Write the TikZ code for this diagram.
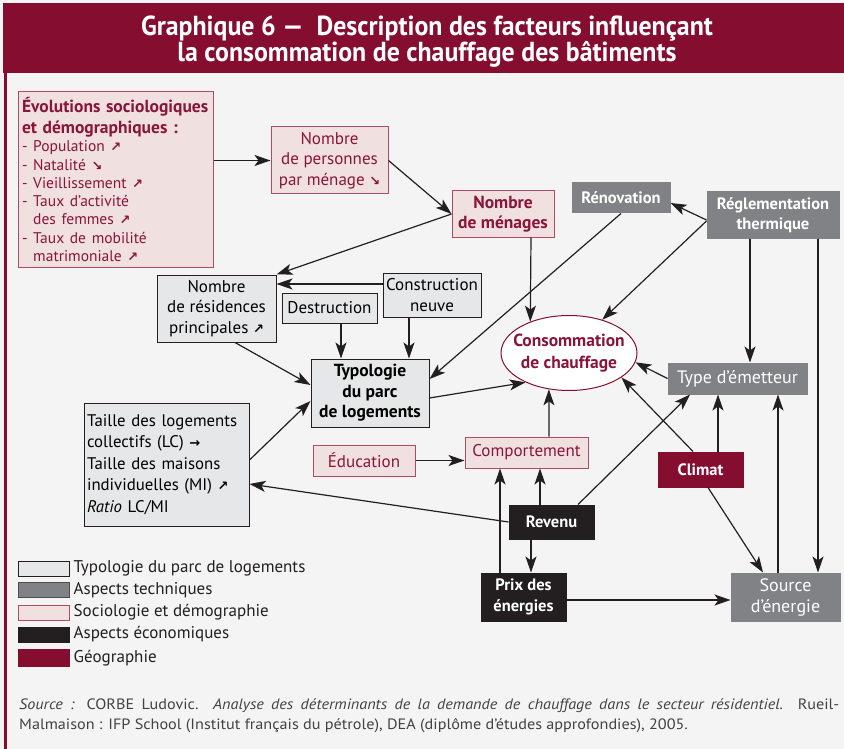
\documentclass[tikz,border=0pt]{standalone}
\usepackage{fontspec}
\setmainfont{PT Sans}
\newfontfamily\titlefont{PT Sans}[FakeStretch=0.94]
\newfontfamily\notefont{PT Sans}[FakeStretch=1.08]
\newfontfamily\symfont{DejaVu Sans}
\usetikzlibrary{arrows.meta,shapes.geometric}
\definecolor{maroon}{HTML}{850D30}
\definecolor{pinkfill}{HTML}{F0E0E0}
\definecolor{pinkline}{HTML}{B04A65}
\definecolor{maroontext}{HTML}{8A1538}
\definecolor{lgfill}{HTML}{E6E7E8}
\definecolor{ink}{HTML}{231F20}
\definecolor{midgray}{HTML}{818285}
\definecolor{bgcol}{HTML}{F4F4F4}
\newcommand\arNE{{\symfont\bfseries\fontsize{13}{13}\selectfont ↗}}
\newcommand\arSE{{\symfont\bfseries\fontsize{13}{13}\selectfont ↘}}
\newcommand\arE{{\symfont\bfseries\fontsize{13}{13}\selectfont →}}
\tikzset{
  nbox/.style={draw, rectangle, align=center, inner sep=2pt, line width=1pt,
    font=\fontsize{17}{20.5}\selectfont},
  socio/.style={nbox, fill=pinkfill, draw=pinkline, text=maroontext},
  typbox/.style={nbox, fill=lgfill, draw=ink},
  tech/.style={nbox, fill=midgray, draw=midgray, text=white, font=\fontsize{16.5}{20.5}\selectfont\bfseries},
  techreg/.style={tech, font=\fontsize{18}{21}\selectfont},
  eco/.style={nbox, fill=ink, draw=ink, text=white, font=\fontsize{16.5}{20.5}\selectfont\bfseries},
  geo/.style={nbox, fill=maroon, draw=maroon, text=white, font=\fontsize{16.5}{20.5}\selectfont\bfseries},
  boldtxt/.style={font=\fontsize{17.5}{20.5}\selectfont\bfseries},
  arr/.style={draw=ink, line width=1.2pt, -{Stealth[length=16pt,width=11pt,inset=4pt]}},
  legsw/.style={rectangle, minimum width=51pt, minimum height=15pt, inner sep=0pt, line width=1pt},
  leglab/.style={anchor=west, inner sep=2pt, text=ink, font=\fontsize{17}{19}\selectfont}
}
\begin{document}
\begin{tikzpicture}[x=1pt,y=-1pt]
\useasboundingbox (0,0) rectangle (844,749);
\fill[bgcol] (0,0) rectangle (844,749);
\fill[maroon] (3,3) rectangle (844,73);
\fill[maroon] (4,73) rectangle (7,749);
\node[text=white, align=center, font=\titlefont\bfseries\fontsize{27.5}{26}\selectfont] (title) at (427,41.5)
  {Graphique 6 —\ \ Description des facteurs influençant\\la consommation de chauffage des bâtiments};

% nodes
\node[socio, align=left, text width=187pt, inner xsep=4pt, minimum height=175pt] (evo) at (115.5,179.5)
  {{\bfseries\fontsize{17.5}{21}\selectfont Évolutions sociologiques\\et démographiques :\par}%
   {\fontsize{15.5}{18.3}\selectfont - Population \arNE\\- Natalité \arSE\\- Vieillissement \arNE\\- Taux d’activité\\\phantom{- }des femmes \arNE\\- Taux de mobilité\\\phantom{- }matrimoniale \arNE\par}};
\node[socio, minimum width=117pt, minimum height=67pt] (npm) at (329.5,160.5) {Nombre\\de personnes\\par ménage \arSE};
\node[socio, boldtxt, minimum width=102pt, minimum height=46pt] (nm) at (503,214) {Nombre\\de ménages};
\node[tech, minimum width=98pt, minimum height=30pt] (renov) at (621,198) {Rénovation};
\node[tech, minimum width=132pt, minimum height=46pt] (regl) at (773,215) {Réglementation\\thermique};
\node[typbox, minimum width=119pt, minimum height=67pt] (nrp) at (216.5,308.5) {Nombre\\de résidences\\principales \arNE};
\node[typbox, minimum width=95pt, minimum height=30pt] (destr) at (329.5,308) {Destruction};
\node[typbox, minimum width=98pt, minimum height=44pt] (cons) at (432,295) {Construction\\neuve};
\node[typbox, boldtxt, minimum width=118pt, minimum height=68pt] (typ) at (370,393) {Typologie\\du parc\\de logements};
\node[ellipse, draw=maroon, fill=white, line width=1pt, minimum width=136pt, minimum height=75pt,
  inner xsep=-14pt, inner ysep=-6pt,
  align=center, text=maroontext, font=\fontsize{17.5}{21.5}\selectfont\bfseries] (conso) at (569,353) {Consommation\\de chauffage};
\node[techreg, minimum width=139pt, minimum height=31pt] (emet) at (737.5,378.5) {Type d’émetteur};
\node[socio, minimum width=123pt, minimum height=31pt] (comp) at (526.5,452.5) {Comportement};
\node[typbox, align=left, text width=159pt, inner xsep=3pt, minimum height=123pt, font=\fontsize{16.8}{21.5}\selectfont] (taille) at (166.5,464.5)
  {Taille des logements\\collectifs (LC) \arE\\Taille des maisons\\individuelles (MI) \arNE\\\textit{Ratio} LC/MI};
\node[socio, minimum width=102pt, minimum height=31pt] (educ) at (364,460.5) {Éducation};
\node[eco, minimum width=85pt, minimum height=34pt] (rev) at (551.5,522) {Revenu};
\node[eco, minimum width=85pt, minimum height=48pt] (prix) at (523.5,597) {Prix des\\énergies};
\node[techreg, minimum width=109pt, minimum height=48pt] (src) at (785.5,597) {Source\\d’énergie};
\node[geo, minimum width=85pt, minimum height=35pt] (climat) at (700.5,469.5) {Climat};

% connectors
\draw[arr] (evo.east |- npm.west) -- (npm.west);
\draw[arr] (npm.east) -- (nm.west);
\draw[arr] (nm.west) -- (nrp.north east);
\draw[arr] ([yshift=11pt]cons.west) -- ([yshift=24.5pt]nrp.east);
\draw[arr] ([xshift=11.5pt]destr.south) -- ([xshift=-29pt]typ.north);
\draw[arr] ([xshift=-23pt]cons.south) -- ([xshift=39pt]typ.north);
\draw[arr] ([xshift=18.5pt]nrp.south) -- ([yshift=8pt]typ.west);
\draw[arr] ([yshift=4.5pt]taille.east) -- ([yshift=-8pt]typ.west);
\draw[arr] (renov.south) -- ([yshift=14pt]typ.east);
\draw[arr] ([yshift=-5pt]typ.east) -- (conso.214);
\draw[arr] ([xshift=28pt]nm.south) -- (conso.141);
\draw[arr] ([yshift=-5pt]regl.west) -- ([yshift=-5pt]renov.east);
\draw[arr] ([yshift=-6pt]regl.west) -- (conso.45);
\draw[arr] ([xshift=-23pt]regl.south) -- ([xshift=12.5pt]emet.north);
\draw[arr] ([xshift=45pt]regl.south) -- ([xshift=32.5pt]src.north);
\draw[arr] (emet.west) -- (conso.-8);
\draw[arr] ([xshift=22.5pt]comp.north) -- (conso.241);
\draw[arr] (educ.east) -- (educ.east -| comp.west);
\draw[arr] ([xshift=17.5pt]climat.north) -- ([xshift=-19.5pt]emet.south);
\draw[arr] ([xshift=-7.5pt]climat.north) -- (conso.-25);
\draw[arr] ([xshift=7.5pt]climat.south) -- ([xshift=-22.5pt]src.north);
\draw[arr] ([xshift=26.5pt]rev.north) -- ([xshift=-47.5pt]emet.south);
\draw[arr] ([xshift=-11.5pt]rev.north) -- ([xshift=13.5pt]comp.south);
\draw[arr] ([xshift=-23.5pt]prix.north) -- ([xshift=-26.5pt]comp.south);
\draw[arr] (rev.west) -- ([yshift=-19.5pt]taille.east);
\draw[arr] ([xshift=-20.5pt]rev.south) -- ([xshift=7.5pt]prix.north);
\draw[arr] ([yshift=-3pt]prix.east) -- ([yshift=-3pt]src.west);
\draw[arr] ([xshift=-7.5pt]src.north) -- ([xshift=40.5pt]emet.south);

% legend
\node[legsw, fill=lgfill, draw=ink] (l1) at (43.5,568.5) {};
\node[leglab] (t1) at ([xshift=2pt]l1.east) {Typologie du parc de logements};
\node[legsw, fill=midgray, draw=ink!80] (l2) at (43.5,590) {};
\node[leglab] (t2) at ([xshift=2pt]l2.east) {Aspects techniques};
\node[legsw, fill=pinkfill, draw=pinkline] (l3) at (43.5,612.5) {};
\node[leglab] (t3) at ([xshift=2pt]l3.east) {Sociologie et démographie};
\node[legsw, fill=ink, draw=ink] (l4) at (43.5,634.5) {};
\node[leglab] (t4) at ([xshift=2pt]l4.east) {Aspects économiques};
\node[legsw, fill=maroon, draw=maroon, minimum height=17pt] (l5) at (43.5,658) {};
\node[leglab] (t5) at ([xshift=2pt]l5.east) {Géographie};

% source
\node[anchor=north west, text width=820pt, align=justify, inner sep=0pt, text=ink!85,
  font=\notefont\fontsize{15}{20}\selectfont] (srcnote) at (19,698.5)
  {\textit{Source :} CORBE Ludovic. \textit{Analyse des déterminants de la demande de chauffage dans le secteur résidentiel.} Rueil-\linebreak
   Malmaison : IFP School (Institut français du pétrole), DEA (diplôme d’études approfondies), 2005.};
\end{tikzpicture}
\end{document}
